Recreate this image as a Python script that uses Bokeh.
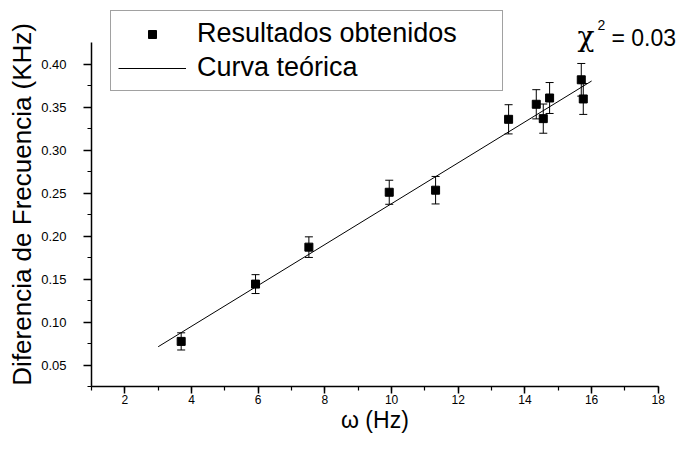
from bokeh.plotting import figure
from bokeh.models import (Range1d, SingleIntervalTicker, NumeralTickFormatter, Whisker,
                          ColumnDataSource, Legend, LegendItem, Label, TeeHead)
from bokeh.embed import file_html
from bokeh.resources import INLINE

# ---- data ----
omega = [3.69, 5.92, 7.52, 9.93, 11.32, 13.51, 14.34, 14.55, 14.74, 15.69, 15.75]
delta_f = [0.0775, 0.1442, 0.1872, 0.2511, 0.2535, 0.3360, 0.3535, 0.3368, 0.3608, 0.3820, 0.3597]
delta_f_err = [0.010, 0.011, 0.012, 0.014, 0.016, 0.017, 0.017, 0.017, 0.018, 0.019, 0.018]
fit_omega = [3.0, 16.0]
fit_delta_f = [0.0713, 0.3806]

x_label = "ω (Hz)"
y_label = "Diferencia de Frecuencia (KHz)"
legend_labels = ["Resultados obtenidos", "Curva teórica"]
chi_value = "= 0.03"

x_axis_bounds = (1, 18)
y_axis_bounds = (0.025, 0.425)

SANS = "Liberation Sans"
NBSP = "\u00a0"

src = ColumnDataSource(dict(
    x=omega, y=delta_f,
    upper=[v + e for v, e in zip(delta_f, delta_f_err)],
    lower=[v - e for v, e in zip(delta_f, delta_f_err)],
))

# frame spans from the canvas top / right edge so that the legend and the
# chi-square note (which sit above the axes) are not clipped; the axes
# themselves are limited with `bounds`.
p = figure(frame_width=586, frame_height=386, output_backend="svg", toolbar_location=None,
           x_range=Range1d(1, 18.576), y_range=Range1d(0.025, 0.4743),
           min_border_left=91, min_border_right=0, min_border_top=0, min_border_bottom=47)
p.outline_line_color = None
p.grid.visible = False
p.background_fill_color = "white"
p.border_fill_color = "white"

xa = p.xaxis[0]
ya = p.yaxis[0]
xa.bounds = x_axis_bounds
ya.bounds = y_axis_bounds
xa.ticker = SingleIntervalTicker(interval=2, num_minor_ticks=2)
ya.ticker = SingleIntervalTicker(interval=0.05, num_minor_ticks=2)
ya.formatter = NumeralTickFormatter(format="0.00")

for ax in (xa, ya):
    ax.axis_line_width = 1.5
    ax.axis_line_color = "black"
    ax.major_tick_line_width = 1.5
    ax.minor_tick_line_width = 1.2
    ax.major_tick_line_color = "black"
    ax.minor_tick_line_color = "black"
    ax.major_tick_in = 0
    ax.minor_tick_in = 0
    ax.minor_tick_out = 4
    ax.major_label_text_font = SANS
    ax.major_label_text_color = "black"
    ax.axis_label_text_font = SANS
    ax.axis_label_text_font_style = "normal"
    ax.axis_label_text_color = "black"

xa.major_label_text_font_size = "12px"
ya.major_label_text_font_size = "13px"
xa.axis_label_text_font_size = "23px"
ya.axis_label_text_font_size = "26px"
xa.major_tick_out = 7
ya.major_tick_out = 8
xa.major_label_standoff = 1
ya.major_label_standoff = 17
# non-breaking spaces only shift the centred label toward the bounded axis
xa.axis_label = x_label + NBSP * 3
ya.axis_label = y_label + NBSP * 3
xa.axis_label_standoff = 0
ya.axis_label_standoff = 1

whisk = Whisker(base="x", upper="upper", lower="lower", source=src,
                line_color="black", line_width=1,
                upper_head=TeeHead(size=8, line_color="black", line_width=1),
                lower_head=TeeHead(size=8, line_color="black", line_width=1))
p.add_layout(whisk)

ln = p.line(fit_omega, fit_delta_f, line_color="black", line_width=1)
sq = p.scatter("x", "y", source=src, marker="square", size=8,
               fill_color="black", line_color="black")

legend = Legend(items=[LegendItem(label=legend_labels[0], renderers=[sq]),
                       LegendItem(label=legend_labels[1], renderers=[ln])],
                location=(19, 295), padding=7, spacing=3, margin=0,
                glyph_width=68, glyph_height=20, label_standoff=11,
                label_width=298, label_height=30,
                label_text_font=SANS, label_text_font_size="27px",
                label_text_color="black",
                border_line_color="#444444", border_line_width=1,
                background_fill_color="white", background_fill_alpha=1)
p.add_layout(legend)

p.add_layout(Label(x=486, y=350, x_units="screen", y_units="screen", text="χ",
                   text_font="DejaVu Serif", text_font_size="28px", text_color="black",
                   text_baseline="alphabetic"))
p.add_layout(Label(x=506, y=362, x_units="screen", y_units="screen", text="2",
                   text_font=SANS, text_font_size="14px", text_color="black",
                   text_baseline="alphabetic"))
p.add_layout(Label(x=520, y=348.5, x_units="screen", y_units="screen", text=chi_value,
                   text_font=SANS, text_font_size="23px", text_color="black",
                   text_baseline="alphabetic"))

open("out.html", "w").write(file_html(p, INLINE))
